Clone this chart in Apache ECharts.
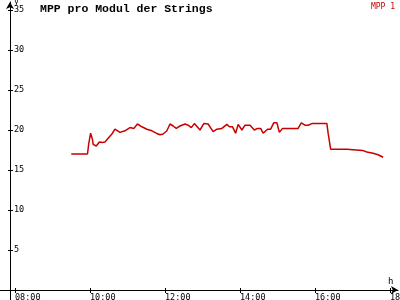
<!DOCTYPE html>
<html><head><meta charset="utf-8">
<script src="https://cdn.jsdelivr.net/npm/echarts@6/dist/echarts.min.js"></script>
<style>html,body{margin:0;padding:0;background:#fff}#c{width:400px;height:300px}</style>
</head><body><div id="c"></div>
<script>
const times = ['09:30','09:56','09:58','10:01','10:04','10:05','10:10','10:15','10:20','10:24','10:29','10:35','10:40','10:48','10:56','11:04','11:10','11:16','11:23','11:31','11:39','11:46','11:52','11:57','12:03','12:08','12:13','12:18','12:24','12:32','12:37','12:42','12:47','12:56','13:02','13:09','13:17','13:23','13:31','13:33','13:39','13:43','13:48','13:53','13:57','14:03','14:08','14:16','14:23','14:28','14:33','14:37','14:44','14:49','14:54','14:59','15:03','15:08','15:33','15:38','15:44','15:49','15:55','16:19','16:21','16:25','16:51','16:53','17:16','17:23','17:33','17:41','17:49'];
const mpp1 = [17.0,17.0,18.3,19.6,18.8,18.2,18.0,18.5,18.45,18.5,18.96,19.5,20.1,19.7,19.9,20.3,20.2,20.75,20.4,20.1,19.9,19.6,19.4,19.5,19.9,20.75,20.5,20.2,20.5,20.75,20.6,20.3,20.8,20.0,20.8,20.75,19.8,20.1,20.2,20.0,20.7,20.4,20.4,19.6,20.7,20.0,20.6,20.6,20.0,20.2,20.2,19.6,20.1,20.1,20.9,20.9,19.7,20.2,20.2,20.9,20.6,20.6,20.8,20.8,19.6,17.6,17.6,17.45,17.45,17.25,17.1,16.9,16.6];
const xTicks = [8,10,12,14,16,18];
const yTicks = [5,10,15,20,25,30,35];
const seriesName = 'MPP 1';
const titleText = 'MPP pro Modul der Strings';

function toH(t){const p=t.split(':');return +p[0]+(+p[1])/60;}
function fmtH(v){const h=Math.round(v);return (h<10?'0':'')+h+':00';}
const data = times.map((t,i)=>[toH(t), mpp1[i]]);

const mono = 'DejaVu Sans Mono';
const chart = echarts.init(document.getElementById('c'), null, {renderer:'canvas'});
const xBase = {type:'value', min:8-5/37.5, max:18+8/37.5, position:'bottom', splitLine:{show:false}};
const yBase = {type:'value', min:0, max:36, position:'left', splitLine:{show:false}};
chart.setOption({
  backgroundColor:'#fff',
  animation:false,
  title:{text:titleText, left:40, top:3, padding:0,
    textStyle:{fontFamily:'Liberation Mono', fontWeight:'bold', fontSize:11.5, color:'#000'}},
  legend:{right:5, top:3, padding:0, icon:'none', itemWidth:0, itemHeight:8, itemGap:0,
    textStyle:{fontFamily:mono, fontSize:8, color:'#c00000', padding:0}},
  grid:{left:10, right:2, top:2, bottom:10, containLabel:false, outerBoundsMode:'none'},
  xAxis:[
    Object.assign({}, xBase, {
      name:'h', nameLocation:'end', nameGap:-10,
      nameTextStyle:{fontFamily:mono, fontSize:9, color:'#000', verticalAlign:'bottom', padding:[0,0,4,0]},
      axisLine:{show:true, onZero:false, lineStyle:{color:'#000', width:1}, symbol:['none','arrow'], symbolSize:[6,7]},
      axisTick:{show:true, inside:false, length:3, customValues:xTicks, lineStyle:{color:'#000'}},
      axisLabel:{show:true, customValues:xTicks, formatter:fmtH, align:'left', margin:3, hideOverlap:false,
        fontFamily:mono, fontSize:8.5, color:'#000'}
    }),
    Object.assign({}, xBase, {
      axisLine:{show:false}, axisLabel:{show:false},
      axisTick:{show:true, inside:true, length:2, customValues:xTicks, lineStyle:{color:'#000'}}
    })
  ],
  yAxis:[
    Object.assign({}, yBase, {
      name:'y', nameLocation:'end', nameGap:-8,
      nameTextStyle:{fontFamily:mono, fontSize:8, color:'#000', align:'left', padding:[0,0,0,4]},
      axisLine:{show:true, onZero:false, lineStyle:{color:'#000', width:1}, symbol:['none','arrow'], symbolSize:[6,7]},
      axisTick:{show:true, inside:true, length:3, customValues:yTicks, lineStyle:{color:'#000'}},
      axisLabel:{show:true, inside:true, customValues:yTicks, margin:4, align:'left',
        fontFamily:mono, fontSize:8.5, color:'#000'}
    }),
    Object.assign({}, yBase, {
      axisLine:{show:false}, axisLabel:{show:false},
      axisTick:{show:true, inside:false, length:2, customValues:yTicks, lineStyle:{color:'#000'}}
    })
  ],
  graphic:[
    {type:'line', shape:{x1:0, y1:290.5, x2:10, y2:290.5}, style:{stroke:'#000', lineWidth:1}, silent:true},
    {type:'line', shape:{x1:10.5, y1:290, x2:10.5, y2:300}, style:{stroke:'#000', lineWidth:1}, silent:true}
  ],
  series:[{
    name:seriesName, type:'line', data:data, xAxisIndex:0, yAxisIndex:0,
    showSymbol:false, symbol:'none', smooth:false,
    lineStyle:{color:'#c80000', width:1.5}, itemStyle:{color:'#c00000'}
  }]
});
</script></body></html>
